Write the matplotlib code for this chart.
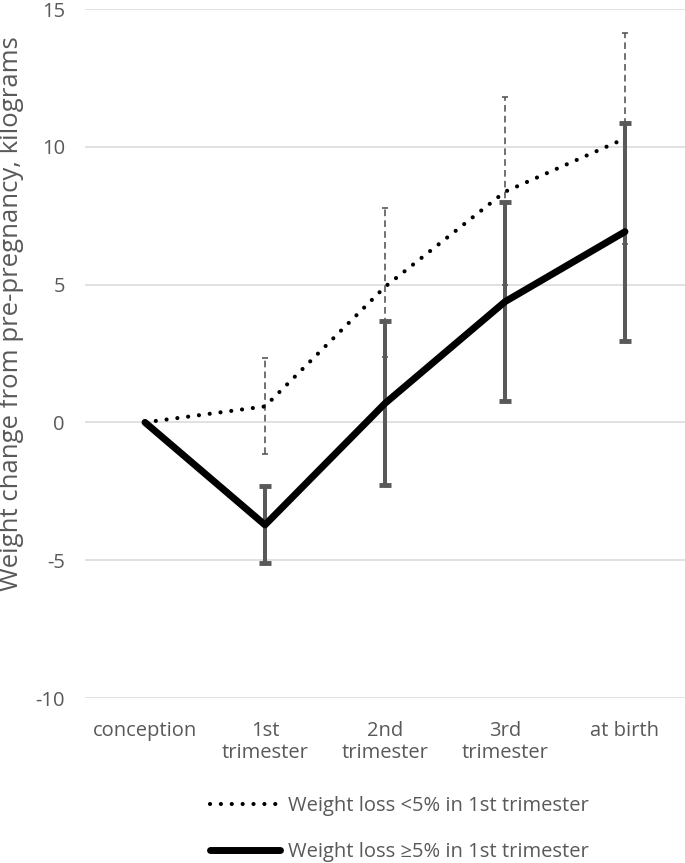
import matplotlib
matplotlib.use("Agg")
import matplotlib.pyplot as plt
import numpy as np

categories = ["conception", "1st\ntrimester", "2nd\ntrimester", "3rd\ntrimester", "at birth"]
low_loss = [0.0, 0.58, 4.92, 8.37, 10.3]
low_err_lo = [0.0, 1.72, 2.54, 3.37, 3.84]
low_err_hi = [0.0, 1.74, 2.85, 3.45, 3.84]
high_loss = [0.0, -3.72, 0.69, 4.38, 6.92]
high_err_lo = [0.0, 1.38, 2.95, 3.60, 3.95]
high_err_hi = [0.0, 1.40, 2.98, 3.62, 3.93]
labels = ["Weight loss <5% in 1st trimester", "Weight loss \u22655% in 1st trimester"]
yticks = [-10, -5, 0, 5, 10, 15]
ylabel = "Weight change from pre-pregnancy, kilograms"

plt.rcParams['font.family'] = ['Open Sans', 'DejaVu Sans']
TXT = '#595959'
GRAY = '#595959'
FS = 14.5

fig = plt.figure(figsize=(6.85, 8.63), dpi=100)
W, H = 685, 863
ax = fig.add_axes([85 / W, 1 - 698 / H, 600 / W, (698 - 9) / H])
x = np.arange(len(categories))

# dotted series error bars
e1 = ax.errorbar(x[1:], low_loss[1:], yerr=[low_err_lo[1:], low_err_hi[1:]], fmt='none',
                 ecolor=GRAY, elinewidth=1.2, capsize=2.5, capthick=1.2, zorder=2)
for bc in e1[2]:
    bc.set_linestyle((0, (4, 2.5)))
ax.plot(x, low_loss, color='black', lw=3.0, linestyle=(0, (0.01, 2.6)),
        dash_capstyle='round', label=labels[0], zorder=3)

# solid series error bars
ax.errorbar(x[1:], high_loss[1:], yerr=[high_err_lo[1:], high_err_hi[1:]], fmt='none',
            ecolor=GRAY, elinewidth=2.9, capsize=4.3, capthick=3.5, zorder=4)
ax.plot(x, high_loss, color='black', lw=5.0, solid_capstyle='round',
        solid_joinstyle='round', label=labels[1], zorder=5)

ax.set_xlim(-0.5, len(categories) - 0.5)
ax.set_ylim(-10, 15)
ax.set_yticks(yticks)
ax.set_yticklabels([str(v) for v in yticks])
ax.set_xticks(x)
ax.set_xticklabels(categories, linespacing=1.13)
ax.grid(axis='y', color='#d9d9d9', lw=1.1)
ax.set_axisbelow(True)
for s in ax.spines.values():
    s.set_visible(False)
ax.tick_params(axis='both', length=0, colors=TXT, labelsize=FS)
ax.tick_params(axis='y', pad=14.5)
ax.tick_params(axis='x', pad=16.5)

fig.text(12 / W, 1 - 314 / H, ylabel, rotation=90, ha='center', va='center',
         fontsize=18.5, color=TXT)

leg = fig.legend(loc='upper left', bbox_to_anchor=(210 / W, 1 - 796 / H), frameon=False,
                 fontsize=FS, handlelength=3.5, handletextpad=0.35, labelspacing=1.28,
                 borderaxespad=0, borderpad=0)
for t in leg.get_texts():
    t.set_color(TXT)

fig.savefig("out.png", dpi=100)
